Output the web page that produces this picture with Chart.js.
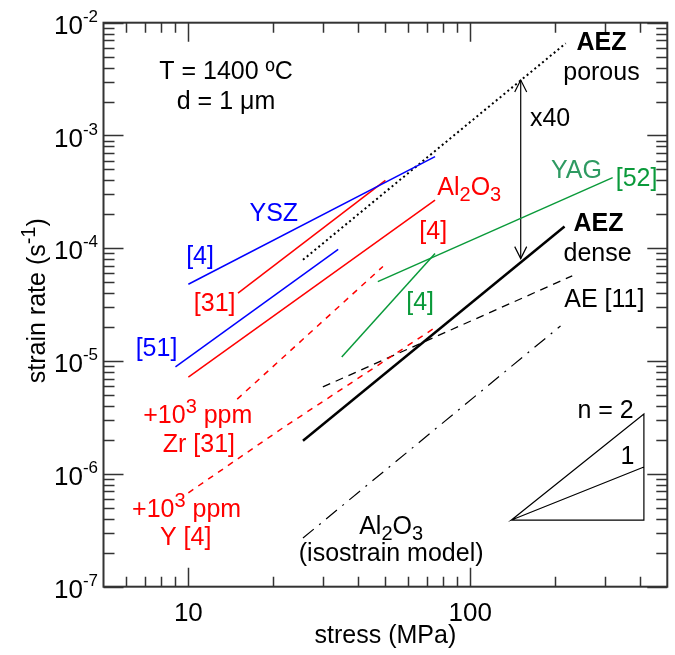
<!DOCTYPE html>
<html>
<head>
<meta charset="utf-8">
<script src="https://cdn.jsdelivr.net/npm/chart.js@4/dist/chart.umd.min.js"></script>
<style>
  body { margin: 0; background: #fff; }
</style>
</head>
<body>
<canvas id="chartCanvas" width="675" height="655"></canvas>
<script>
// axis ranges + ticks
const stressRange = [5, 500];
const rateRange = [1e-7, 1e-2];
const stressMajor = [10, 100];
const stressMinor = [6, 7, 8, 9, 20, 30, 40, 50, 60, 70, 80, 90, 200, 300, 400];
const rateMajor = [1e-7, 1e-6, 1e-5, 1e-4, 1e-3, 1e-2];
const rateExponents = ["-7", "-6", "-5", "-4", "-3", "-2"];

// series (stress MPa, strain rate 1/s)
const yszRef4Stress = [10, 75];
const yszRef4Rate = [4.8e-5, 6.5e-4];
const yszRef51Stress = [9.0, 34];
const yszRef51Rate = [8.9e-6, 9.8e-5];
const aluRef31Stress = [15, 50];
const aluRef31Rate = [4.0e-5, 4.0e-4];
const aluRef4Stress = [10, 75];
const aluRef4Rate = [7.2e-6, 2.67e-4];
const aluZrStress = [14.9, 49];
const aluZrRate = [4.6e-6, 6.9e-5];
const aluYStress = [10, 21.6, 75];
const aluYRate = [6.8e-7, 2.55e-6, 1.98e-5];
const yagRef52Stress = [47, 320];
const yagRef52Rate = [5.06e-5, 4.23e-4];
const yagRef4Stress = [35, 75];
const yagRef4Rate = [1.09e-5, 9.0e-5];
const aezDenseStress = [25.5, 216];
const aezDenseRate = [1.97e-6, 1.56e-4];
const aezPorousStress = [25.5, 218];
const aezPorousRate = [7.9e-5, 6.56e-3];
const aeRef11Stress = [30, 230];
const aeRef11Rate = [5.9e-6, 5.7e-5];
const isostrainStress = [25.5, 209];
const isostrainRate = [2.7e-7, 2.05e-5];
const arrowStress = [151, 151];
const arrowRate = [3.1e-3, 8.1e-5];
const slopeStress = [413, 140, 413, 413, 140];
const slopeRate = [1.15e-6, 3.9e-7, 3.4e-6, 3.9e-7, 3.9e-7];

const BLUE = "#0000ff", RED = "#ff0000", GREEN = "#0a9a3a", TEAL = "#2e9a62", BLACK = "#000";
const FONT = "'Liberation Sans', Arial, sans-serif";
const SIZE = 25;

// text labels, placed in data coords
const notes = [
    { parts: [["T = 1400 ºC"]], x: 13.6, y: 3.81e-3, color: BLACK },
    { parts: [["d = 1 μm"]], x: 13.6, y: 2.07e-3, color: BLACK },
    { parts: [["YSZ"]], x: 20.1, y: 2.1e-4, color: BLUE },
    { parts: [["[4]"]], x: 11.0, y: 8.73e-5, color: BLUE },
    { parts: [["[31]"]], x: 12.4, y: 3.34e-5, color: RED },
    { parts: [["[51]"]], x: 7.71, y: 1.33e-5, color: BLUE },
    { parts: [["Al"], ["2", "sub"], ["O"], ["3", "sub"]], x: 99.2, y: 3.6e-4, color: RED },
    { parts: [["[4]"]], x: 73.9, y: 1.45e-4, color: RED },
    { parts: [["YAG"]], x: 238, y: 5.05e-4, color: TEAL },
    { parts: [["[52]"]], x: 389, y: 4.28e-4, color: GREEN },
    { parts: [["[4]"]], x: 66.4, y: 3.41e-5, color: GREEN },
    { parts: [["AEZ"]], x: 292, y: 6.89e-3, color: BLACK, bold: true },
    { parts: [["porous"]], x: 292, y: 3.73e-3, color: BLACK },
    { parts: [["x40"]], x: 192, y: 1.46e-3, color: BLACK },
    { parts: [["AEZ"]], x: 285, y: 1.71e-4, color: BLACK, bold: true },
    { parts: [["dense"]], x: 283, y: 9.27e-5, color: BLACK },
    { parts: [["AE [11]"]], x: 299, y: 3.62e-5, color: BLACK },
    { parts: [["+10"], ["3", "sup"], [" ppm"]], x: 10.8, y: 3.4e-6, color: RED },
    { parts: [["Zr [31]"]], x: 10.9, y: 1.88e-6, color: RED },
    { parts: [["+10"], ["3", "sup"], [" ppm"]], x: 9.86, y: 5.0e-7, color: RED },
    { parts: [["Y [4]"]], x: 9.78, y: 2.81e-7, color: RED },
    { parts: [["Al"], ["2", "sub"], ["O"], ["3", "sub"]], x: 52.4, y: 3.55e-7, color: BLACK },
    { parts: [["(isostrain model)"]], x: 52.4, y: 2.03e-7, color: BLACK },
    { parts: [["n = 2"]], x: 302, y: 3.76e-6, color: BLACK },
    { parts: [["1"]], x: 361, y: 1.47e-6, color: BLACK }
];

function pts(xs, ys) {
    return xs.map((x, i) => ({ x: x, y: ys[i] }));
}

function line(data, color, width, dash) {
    return {
        data: data,
        showLine: true,
        borderColor: color,
        borderWidth: width,
        borderDash: dash || [],
        pointRadius: 0,
        fill: false
    };
}

function drawRich(ctx, parts, cx, cy, size, color, bold, rotate) {
    const weight = bold ? "bold " : "";
    const small = Math.round(size * 0.78);
    let total = 0;
    const widths = parts.map(p => {
        ctx.font = weight + (p[1] ? small : size) + "px " + FONT;
        const w = ctx.measureText(p[0]).width;
        total += w;
        return w;
    });
    ctx.save();
    ctx.translate(cx, cy);
    if (rotate) ctx.rotate(rotate);
    ctx.fillStyle = color;
    ctx.textBaseline = "alphabetic";
    ctx.textAlign = "left";
    let x = -total / 2;
    const base = size * 0.36;
    parts.forEach((p, i) => {
        ctx.font = weight + (p[1] ? small : size) + "px " + FONT;
        let dy = 0;
        if (p[1] === "sub") dy = size * 0.27;
        if (p[1] === "sup") dy = -size * 0.4;
        ctx.fillText(p[0], x, base + dy);
        x += widths[i];
    });
    ctx.restore();
}

const framePlugin = {
    id: "frame",
    afterDraw(c) {
        const ctx = c.ctx;
        const xs = c.scales.x, ys = c.scales.y;
        const a = c.chartArea;
        ctx.save();

        // axis box
        ctx.strokeStyle = "#333";
        ctx.lineWidth = 2;
        ctx.strokeRect(a.left, a.top, a.right - a.left, a.bottom - a.top);

        // x ticks, inward on bottom and top
        ctx.lineWidth = 1.5;
        ctx.beginPath();
        stressMajor.concat(stressMinor).forEach(v => {
            const px = Math.round(xs.getPixelForValue(v)) + 0.5;
            const len = stressMajor.includes(v) ? 19 : 10;
            ctx.moveTo(px, a.bottom); ctx.lineTo(px, a.bottom - len);
            ctx.moveTo(px, a.top); ctx.lineTo(px, a.top + len);
        });
        // y ticks, inward on left and right
        rateMajor.forEach((v, i) => {
            for (let m = 1; m <= 9; m++) {
                const val = v * m;
                if (m > 1 && i === rateMajor.length - 1) continue;
                const py = Math.round(ys.getPixelForValue(val)) + 0.5;
                const len = m === 1 ? 20 : 11;
                ctx.moveTo(a.left, py); ctx.lineTo(a.left + len, py);
                ctx.moveTo(a.right, py); ctx.lineTo(a.right - len, py);
            }
        });
        ctx.stroke();

        // tick labels
        stressMajor.forEach(v => {
            drawRich(ctx, [[String(v)]], xs.getPixelForValue(v), 612, 26, BLACK);
        });
        rateMajor.forEach((v, i) => {
            const py = ys.getPixelForValue(v);
            ctx.fillStyle = BLACK;
            ctx.textBaseline = "alphabetic";
            ctx.textAlign = "right";
            ctx.font = "17px " + FONT;
            const ew = ctx.measureText(rateExponents[i]).width;
            ctx.fillText(rateExponents[i], 98, py - 1);
            ctx.font = "26px " + FONT;
            ctx.fillText("10", 98 - ew, py + 11);
        });

        // axis titles
        drawRich(ctx, [["stress (MPa)"]], (a.left + a.right) / 2, 634, 25, BLACK);
        drawRich(ctx, [["strain rate (s"], ["-1", "sup"], [")"]], 36, (a.top + a.bottom) / 2 - 4, 25, BLACK, false, -Math.PI / 2);

        // arrow heads on the x40 arrow
        const ax = xs.getPixelForValue(arrowStress[0]);
        const top = ys.getPixelForValue(arrowRate[0]);
        const bot = ys.getPixelForValue(arrowRate[1]);
        ctx.strokeStyle = BLACK;
        ctx.lineWidth = 1.2;
        ctx.beginPath();
        ctx.moveTo(ax - 6, top + 12); ctx.lineTo(ax, top); ctx.lineTo(ax + 6, top + 12);
        ctx.moveTo(ax - 6, bot - 12); ctx.lineTo(ax, bot); ctx.lineTo(ax + 6, bot - 12);
        ctx.stroke();

        // annotations
        notes.forEach(n => {
            drawRich(ctx, n.parts, xs.getPixelForValue(n.x), ys.getPixelForValue(n.y), SIZE, n.color, n.bold);
        });
        ctx.restore();
    }
};

new Chart(document.getElementById("chartCanvas"), {
    type: "scatter",
    data: {
        datasets: [
            line(pts(yszRef4Stress, yszRef4Rate), BLUE, 1.5),
            line(pts(yszRef51Stress, yszRef51Rate), BLUE, 1.5),
            line(pts(aluRef31Stress, aluRef31Rate), RED, 1.5),
            line(pts(aluRef4Stress, aluRef4Rate), RED, 1.5),
            line(pts(aluZrStress, aluZrRate), RED, 1.5, [6, 6]),
            line(pts(aluYStress, aluYRate), RED, 1.5, [6, 6]),
            line(pts(yagRef52Stress, yagRef52Rate), GREEN, 1.5),
            line(pts(yagRef4Stress, yagRef4Rate), GREEN, 1.5),
            line(pts(aezDenseStress, aezDenseRate), BLACK, 2.5),
            line(pts(aezPorousStress, aezPorousRate), BLACK, 2, [2, 3]),
            line(pts(aeRef11Stress, aeRef11Rate), BLACK, 1.3, [8, 6]),
            line(pts(isostrainStress, isostrainRate), BLACK, 1.2, [14, 7, 2, 7]),
            line(pts(arrowStress, arrowRate), BLACK, 1.2),
            line(pts(slopeStress, slopeRate), BLACK, 1.2)
        ]
    },
    options: {
        responsive: false,
        animation: false,
        layout: { padding: { left: 103.5, right: 7.7, top: 22.7, bottom: 68.3 } },
        plugins: { legend: { display: false }, tooltip: { enabled: false } },
        scales: {
            x: { type: "logarithmic", min: stressRange[0], max: stressRange[1], display: false },
            y: { type: "logarithmic", min: rateRange[0], max: rateRange[1], display: false }
        }
    },
    plugins: [framePlugin]
});
</script>
</body>
</html>
